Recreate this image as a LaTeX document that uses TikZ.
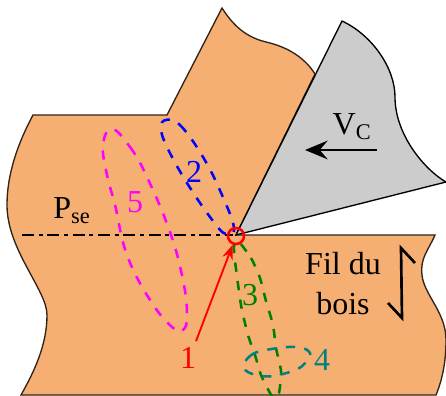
\documentclass[tikz,border=0pt]{standalone}
\usepackage{fontspec}
\setmainfont{Liberation Serif}
\usetikzlibrary{arrows.meta}
\definecolor{WoodTan}{HTML}{F5AF73}
\definecolor{ToolGrey}{HTML}{CCCCCC}
\definecolor{ZoneBlue}{HTML}{0000FF}
\definecolor{ZonePink}{HTML}{FF00FF}
\definecolor{ZoneRed}{HTML}{FF0000}
\definecolor{ZoneGreen}{HTML}{008000}
\definecolor{ZoneTeal}{HTML}{008080}
\tikzset{
    zoneline/.style={line width=1.9pt, dash pattern=on 7pt off 7pt, line cap=butt},
    biglabel/.style={inner sep=0pt, font=\fontsize{24}{26}\selectfont},
}

\begin{document}
\begin{tikzpicture}[x=0.75pt,y=-0.75pt]
    \useasboundingbox (0,0) rectangle (446,396);

    % Workpiece with the chip going up
    \draw[WoodTan!20!black, line width=1pt, fill=WoodTan] (33,115) -- (167,115) -- (222,8)
        .. controls (236,30) and (250,38) .. (266,42)
        .. controls (288,47) and (305,58) .. (315,74)
        -- (236,235) -- (435,235)
        .. controls (428,251) and (420,258) .. (422,275)
        .. controls (424,295) and (446,312) .. (446,340)
        .. controls (446,360) and (443,378) .. (436,395)
        -- (21,395)
        .. controls (34,372) and (47,345) .. (47,315)
        .. controls (47,290) and (7,250) .. (7,205)
        .. controls (7,175) and (17,145) .. (33,115) -- cycle;

    % Cutting tool
    \draw[black, line width=1pt, fill=ToolGrey] (236,235) -- (342,21)
        .. controls (372,35) and (395,68) .. (395,97)
        .. controls (395,135) and (425,170) .. (446,182) -- cycle;

    % Shear plane
    \coordinate (pleft) at (22,235);
    \coordinate (pright) at (233,235);
    \draw[black, line width=2pt, dash pattern=on 9pt off 3.5pt on 3pt off 3.5pt] (pleft) -- (pright);
    \node[biglabel] (planelabel) at (72,211) {P\textsubscript{se}};

    % Zones around the tip
    \draw[ZoneBlue, zoneline] plot[smooth cycle, tension=0.7] coordinates {(166,120) (180,125) (203,157) (222,195) (234,228) (226,234) (213,221) (187,183) (167,147) (161,128)};
    \node[biglabel, ZoneBlue] (zonetwo) at (194,172) {2};

    \draw[ZonePink, zoneline] plot[smooth cycle, tension=0.7] coordinates {(112,129) (130,147) (147,177) (170,232) (183,280) (187,315) (183,330) (172,327) (150,300) (127,255) (115,205) (107,175) (103,145)};
    \node[biglabel, ZonePink] (zonefive) at (135,202) {5};

    \begin{scope}
        \clip (0,0) rectangle (446,396);
        \draw[ZoneGreen, zoneline] plot[smooth cycle, tension=0.4] coordinates {(238,241) (251,258) (260,278) (266,301) (273,325) (276,348) (281,371) (279,393) (274,398) (270,393) (261,375) (255,355) (248,335) (241,305) (235,261) (234,246)};
    \end{scope}
    \node[biglabel, ZoneGreen] (zonethree) at (250,295) {3};

    \draw[ZoneTeal, zoneline] plot[smooth cycle, tension=0.7] coordinates {(244,368) (250,356) (266,350) (296,347) (310,353) (305,363) (295,370) (273,376) (256,375)};
    \node[biglabel, ZoneTeal] (zonefour) at (322,360) {4};

    % Tip and crack direction
    \node[circle, draw=ZoneRed, line width=1.9pt, minimum size=12pt, inner sep=0pt] (tip) at (236,236) {};
    \node[biglabel, ZoneRed] (zoneone) at (188,358) {1};
    \draw[-{Stealth[length=11pt,width=8pt]}, ZoneRed, line width=1.4pt] (zoneone.north) ++(8,-6) coordinate (crackstart) -- (tip);

    % Cutting speed
    \coordinate (vstart) at (377,150);
    \coordinate (vend) at (305,150);
    \draw[-{Stealth[length=17pt,width=14pt,inset=6pt]}, black, line width=1.9pt] (vstart) -- (vend);
    \node[biglabel] (vlabel) at (352,127) {V\textsubscript{C}};

    % Grain direction
    \node[biglabel] (filtext) at (343,264) {Fil du};
    \node[biglabel] (boistext) at (343,304) {bois};
    \draw[black, line width=2pt] (415,263) -- (401,248) -- (402,318) -- (388,303);
\end{tikzpicture}
\end{document}
